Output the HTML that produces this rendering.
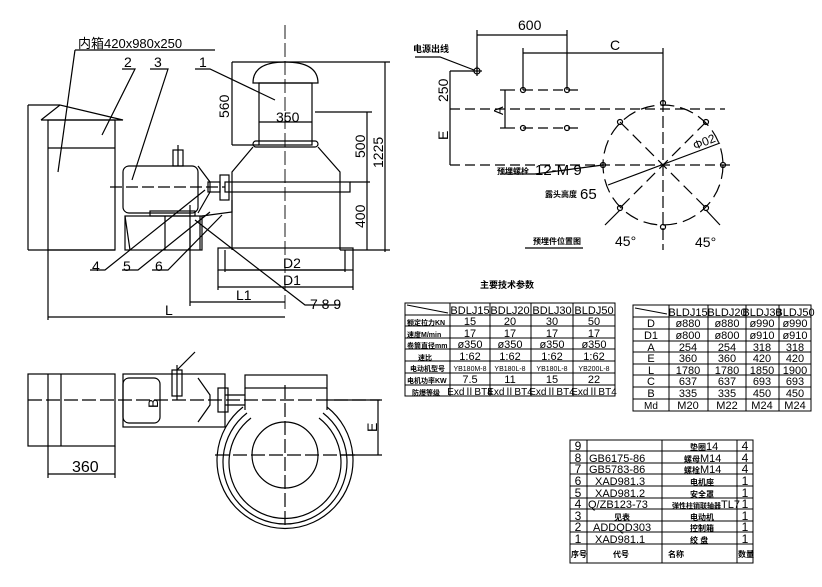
<!DOCTYPE html>
<html><head><meta charset="utf-8"><style>
html,body{margin:0;padding:0;background:#fff;}
svg{display:block;}
text{font-family:"Liberation Sans","Noto Sans CJK SC",sans-serif;fill:#000;}
.c{font-family:"Noto Sans CJK SC",sans-serif;font-weight:bold;}
</style></head><body>
<svg width="822" height="587" viewBox="0 0 822 587" xmlns="http://www.w3.org/2000/svg" stroke="#000" stroke-width="1.2" fill="none">
<!-- ================= FRONT VIEW ================= -->
<g>
<line x1="28" y1="105" x2="28" y2="250"/>
<line x1="28" y1="105" x2="60" y2="105"/>
<line x1="28" y1="250" x2="115" y2="250"/>
<polyline points="41,120 60,105 123,120 41,120"/>
<rect x="48" y="120" width="67" height="130"/>
<line x1="48" y1="148" x2="115" y2="148"/>
<!-- motor -->
<rect x="123" y="166" width="75" height="47" rx="6"/>
<polyline points="198,166 210,182 210,192 198,213"/>
<rect x="173" y="150" width="10" height="16"/>
<line x1="178" y1="145" x2="178" y2="166"/>
<rect x="208" y="182" width="12" height="10"/>
<line x1="110" y1="187" x2="225" y2="187" stroke-dasharray="12,4"/>
<rect x="150" y="211" width="45" height="5"/>
<!-- base frame -->
<rect x="125" y="216" width="77" height="34"/>
<line x1="125" y1="216" x2="130" y2="250"/>
<line x1="165" y1="216" x2="165" y2="250"/>
<line x1="200" y1="216" x2="200" y2="250"/>
<line x1="190" y1="205" x2="190" y2="250"/>
<polyline points="202,216 232,212 232,200"/>
<!-- capstan -->
<path d="M253,83 Q253,62 285,62 Q318,62 318,83 Z"/>
<rect x="259" y="83" width="53" height="62"/>
<line x1="259" y1="122" x2="312" y2="122"/>
<rect x="253" y="141" width="65" height="6" rx="3"/>
<polyline points="253,147 232,172 232,250"/>
<polyline points="318,147 340,172 340,250"/>
<rect x="218" y="248" width="135" height="22"/>
<line x1="225" y1="250" x2="225" y2="272"/>
<line x1="345" y1="250" x2="345" y2="272"/>
<rect x="225" y="182" width="125" height="10"/>
<rect x="220" y="175" width="9" height="25"/>
<line x1="285" y1="25" x2="285" y2="312" stroke-dasharray="14,4" stroke-width="0.9"/>
<!-- dims -->
<line x1="232" y1="62" x2="390" y2="62"/>
<line x1="232" y1="62" x2="232" y2="145"/>
<line x1="232" y1="145" x2="259" y2="145"/>
<line x1="315" y1="112" x2="372" y2="112"/>
<line x1="367" y1="112" x2="367" y2="250"/>
<line x1="385" y1="62" x2="385" y2="252"/>
<line x1="350" y1="182" x2="370" y2="182"/>
<line x1="340" y1="250" x2="390" y2="250"/>
<line x1="226" y1="270" x2="345" y2="270"/>
<line x1="218" y1="287" x2="353" y2="287"/>
<line x1="218" y1="270" x2="218" y2="290"/>
<line x1="353" y1="270" x2="353" y2="290"/>
<line x1="190" y1="230" x2="190" y2="306"/>
<line x1="190" y1="302" x2="285" y2="302"/>
<line x1="48" y1="250" x2="48" y2="320"/>
<line x1="48" y1="317" x2="285" y2="317"/>
<!-- leaders -->
<polyline points="75,50 215,50"/>
<line x1="75" y1="50" x2="58" y2="172"/>
<polyline points="122,69 135,69 102,135"/>
<polyline points="150,69 168,69 132,180"/>
<polyline points="195,69 210,69 275,100"/>
<polyline points="90,270 105,270 205,190"/>
<polyline points="122,270 138,270 210,212"/>
<polyline points="152,270 168,270 222,215"/>
<polyline points="195,220 305,305 340,305"/>
</g>
<g stroke="none">
<text x="78" y="48" font-size="13">内箱420x980x250</text>
<text x="124" y="67" font-size="14">2</text>
<text x="154" y="67" font-size="14">3</text>
<text x="199" y="67" font-size="14">1</text>
<text x="276" y="122" font-size="14">350</text>
<text x="92" y="271" font-size="14">4</text>
<text x="123" y="271" font-size="14">5</text>
<text x="155" y="271" font-size="14">6</text>
<text x="283" y="268" font-size="14">D2</text>
<text x="283" y="285" font-size="14">D1</text>
<text x="236" y="300" font-size="14">L1</text>
<text x="165" y="315" font-size="14">L</text>
<text x="310" y="309" font-size="14">7 8 9</text>
<text transform="translate(229,118) rotate(-90)" font-size="14">560</text>
<text transform="translate(365,158) rotate(-90)" font-size="14">500</text>
<text transform="translate(365,228) rotate(-90)" font-size="14">400</text>
<text transform="translate(383,168) rotate(-90)" font-size="14">1225</text>
</g>

<!-- ================= PLAN (top right) ================= -->
<g>
<line x1="477" y1="30" x2="477" y2="72"/>
<line x1="567" y1="30" x2="567" y2="90"/>
<line x1="477" y1="35" x2="567" y2="35"/>
<line x1="523" y1="48" x2="523" y2="90"/>
<line x1="663" y1="48" x2="663" y2="102"/>
<line x1="523" y1="53" x2="663" y2="53"/>
<circle cx="477" cy="71" r="3"/>
<line x1="472" y1="71" x2="482" y2="71"/><line x1="477" y1="66" x2="477" y2="76"/>
<polyline points="415,57 440,57 474,70"/>
<line x1="450" y1="71" x2="474" y2="71"/>
<line x1="450" y1="71" x2="450" y2="165"/>
<line x1="450" y1="109" x2="725" y2="109" stroke-dasharray="10,5"/>
<line x1="450" y1="165" x2="730" y2="165" stroke-dasharray="10,5"/>
<line x1="505" y1="90" x2="505" y2="128"/>
<line x1="500" y1="90" x2="515" y2="90"/><line x1="500" y1="128" x2="515" y2="128"/>
<line x1="523" y1="90" x2="580" y2="90" stroke-dasharray="10,5"/>
<line x1="523" y1="128" x2="580" y2="128" stroke-dasharray="10,5"/>
<circle cx="523" cy="90" r="2.5"/><circle cx="567" cy="90" r="2.5"/>
<circle cx="523" cy="128" r="2.5"/><circle cx="567" cy="128" r="2.5"/>
<circle cx="663" cy="165" r="60" stroke-dasharray="14,6"/>
<line x1="663" y1="100" x2="663" y2="250" stroke-dasharray="12,4"/>
<line x1="620" y1="122" x2="706" y2="208" stroke-dasharray="12,6"/>
<line x1="706" y1="122" x2="620" y2="208" stroke-dasharray="12,6"/>
<circle cx="663" cy="103" r="2.5"/><circle cx="663" cy="227" r="2.5"/>
<circle cx="603" cy="165" r="2.5"/><circle cx="723" cy="165" r="2.5"/>
<circle cx="620" cy="122" r="2.5"/><circle cx="706" cy="122" r="2.5"/>
<circle cx="620" cy="208" r="2.5"/><circle cx="706" cy="208" r="2.5"/>
<line x1="608" y1="185" x2="720" y2="143"/>
<polyline points="500,174 535,174 603,165"/>
<line x1="605" y1="225" x2="620" y2="210"/>
<line x1="720" y1="225" x2="706" y2="210"/>
<line x1="525" y1="248" x2="583" y2="248"/>
</g>
<g stroke="none">
<text x="518" y="30" font-size="14">600</text>
<text x="610" y="50" font-size="14">C</text>
<text x="413" y="52" font-size="9" class="c">电源出线</text>
<text transform="translate(448,102) rotate(-90)" font-size="14">250</text>
<text transform="translate(448,140) rotate(-90)" font-size="14">E</text>
<text transform="translate(503,115) rotate(-90)" font-size="13">A</text>
<text x="497" y="174" font-size="8" class="c">预埋螺栓</text>
<text x="535" y="175" font-size="15">12-M 9</text>
<text x="545" y="197" font-size="8" class="c">露头高度</text>
<text x="580" y="199" font-size="15">65</text>
<text transform="translate(695,150) rotate(-22)" font-size="12">Φ02</text>
<text x="533" y="244" font-size="8" class="c">预埋件位置图</text>
<text x="615" y="246" font-size="14">45°</text>
<text x="695" y="247" font-size="14">45°</text>
</g>

<!-- ================= BOTTOM LEFT PLAN ================= -->
<g>
<rect x="28" y="374" width="87" height="72"/>
<line x1="48" y1="374" x2="48" y2="478"/>
<line x1="61" y1="374" x2="61" y2="446"/>
<line x1="115" y1="446" x2="115" y2="478"/>
<line x1="48" y1="474" x2="115" y2="474"/>
<rect x="123" y="374" width="102" height="53"/>
<rect x="123" y="378" width="37" height="45" rx="6"/>
<polyline points="198,378 210,395 210,405 198,422"/>
<rect x="172" y="370" width="10" height="26"/>
<line x1="177" y1="365" x2="177" y2="400"/>
<line x1="177" y1="370" x2="195" y2="352"/>
<rect x="218" y="388" width="10" height="24"/>
<line x1="225" y1="395" x2="245" y2="395"/><line x1="225" y1="405" x2="245" y2="405"/>
<line x1="28" y1="400" x2="380" y2="400" stroke-dasharray="14,4"/>
<rect x="245" y="375" width="82" height="13"/>
<line x1="245" y1="388" x2="245" y2="410"/><line x1="327" y1="388" x2="327" y2="410"/>
<path d="M243,407 A68,68 0 1,0 327,407"/>
<path d="M247,413 A62,62 0 1,0 323,413"/>
<path d="M251,418 A56,56 0 1,0 319,418"/>
<circle cx="285" cy="455" r="33"/>
<line x1="215" y1="455" x2="355" y2="455" stroke-dasharray="14,4"/>
<line x1="285" y1="385" x2="285" y2="525" stroke-dasharray="14,4"/>
<line x1="330" y1="400" x2="382" y2="400"/>
<line x1="340" y1="455" x2="382" y2="455"/>
<line x1="378" y1="400" x2="378" y2="455"/>
</g>
<g stroke="none">
<text x="72" y="472" font-size="16">360</text>
<text transform="translate(158,408) rotate(-90)" font-size="14">B</text>
<text transform="translate(377,432) rotate(-90)" font-size="14">E</text>
</g>

<!-- ================= TABLE 1 ================= -->
<text x="480" y="288" font-size="9" class="c" stroke="none">主要技术参数</text>
<g stroke-width="1">
<rect x="405" y="303" width="210" height="93"/>
<line x1="450" y1="303" x2="450" y2="396"/><line x1="490" y1="303" x2="490" y2="396"/>
<line x1="531" y1="303" x2="531" y2="396"/><line x1="573" y1="303" x2="573" y2="396"/>
<line x1="405" y1="315" x2="615" y2="315"/><line x1="405" y1="326" x2="615" y2="326"/>
<line x1="405" y1="338" x2="615" y2="338"/><line x1="405" y1="349" x2="615" y2="349"/>
<line x1="405" y1="361" x2="615" y2="361"/><line x1="405" y1="373" x2="615" y2="373"/>
<line x1="405" y1="385" x2="615" y2="385"/>
<line x1="407" y1="305" x2="448" y2="313"/>
</g>
<g stroke="none" font-size="11" text-anchor="middle">
<text x="470" y="314">BDLJ15</text><text x="510" y="314">BDLJ20</text><text x="552" y="314">BDLJ30</text><text x="594" y="314">BLDJ50</text>
<text x="470" y="325">15</text><text x="510" y="325">20</text><text x="552" y="325">30</text><text x="594" y="325">50</text>
<text x="470" y="337">17</text><text x="510" y="337">17</text><text x="552" y="337">17</text><text x="594" y="337">17</text>
<text x="470" y="348">ø350</text><text x="510" y="348">ø350</text><text x="552" y="348">ø350</text><text x="594" y="348">ø350</text>
<text x="470" y="360">1:62</text><text x="510" y="360">1:62</text><text x="552" y="360">1:62</text><text x="594" y="360">1:62</text>
<text x="470" y="371" font-size="7">YB180M-8</text><text x="510" y="371" font-size="7">YB180L-8</text><text x="552" y="371" font-size="7">YB180L-8</text><text x="594" y="371" font-size="7">YB200L-8</text>
<text x="470" y="383">7.5</text><text x="510" y="383">11</text><text x="552" y="383">15</text><text x="594" y="383">22</text>
<text x="470" y="395" font-size="10">ExdⅡBT4</text><text x="510" y="395" font-size="10">ExdⅡBT4</text><text x="552" y="395" font-size="10">ExdⅡBT4</text><text x="594" y="395" font-size="10">ExdⅡBT4</text>
<g font-size="7" class="c" text-anchor="start">
<text x="407" y="325">额定拉力KN</text><text x="407" y="337">速度M/min</text><text x="407" y="348">卷筒直径mm</text>
<text x="418" y="360">速比</text><text x="410" y="371">电动机型号</text><text x="407" y="383">电机功率KW</text><text x="412" y="395">防爆等级</text>
</g>
</g>

<!-- ================= TABLE 2 ================= -->
<g stroke-width="1">
<rect x="633" y="305" width="178" height="106"/>
<line x1="669" y1="305" x2="669" y2="411"/><line x1="708" y1="305" x2="708" y2="411"/>
<line x1="746" y1="305" x2="746" y2="411"/><line x1="779" y1="305" x2="779" y2="411"/>
<line x1="633" y1="317" x2="811" y2="317"/><line x1="633" y1="329" x2="811" y2="329"/>
<line x1="633" y1="341" x2="811" y2="341"/><line x1="633" y1="352" x2="811" y2="352"/>
<line x1="633" y1="364" x2="811" y2="364"/><line x1="633" y1="375" x2="811" y2="375"/>
<line x1="633" y1="387" x2="811" y2="387"/><line x1="633" y1="399" x2="811" y2="399"/>
<line x1="635" y1="308" x2="667" y2="314"/>
</g>
<g stroke="none" font-size="11" text-anchor="middle">
<text x="688" y="316">BLDJ15</text><text x="727" y="316">BLDJ20</text><text x="762" y="316">BLDJ30</text><text x="795" y="316">BLDJ50</text>
<text x="651" y="327">D</text><text x="688" y="327">ø880</text><text x="727" y="327">ø880</text><text x="762" y="327">ø990</text><text x="795" y="327">ø990</text>
<text x="651" y="339">D1</text><text x="688" y="339">ø800</text><text x="727" y="339">ø800</text><text x="762" y="339">ø910</text><text x="795" y="339">ø910</text>
<text x="651" y="351">A</text><text x="688" y="351">254</text><text x="727" y="351">254</text><text x="762" y="351">318</text><text x="795" y="351">318</text>
<text x="651" y="362">E</text><text x="688" y="362">360</text><text x="727" y="362">360</text><text x="762" y="362">420</text><text x="795" y="362">420</text>
<text x="651" y="374">L</text><text x="688" y="374">1780</text><text x="727" y="374">1780</text><text x="762" y="374">1850</text><text x="795" y="374">1900</text>
<text x="651" y="385">C</text><text x="688" y="385">637</text><text x="727" y="385">637</text><text x="762" y="385">693</text><text x="795" y="385">693</text>
<text x="651" y="397">B</text><text x="688" y="397">335</text><text x="727" y="397">335</text><text x="762" y="397">450</text><text x="795" y="397">450</text>
<text x="651" y="409" font-size="10">Md</text><text x="688" y="409">M20</text><text x="727" y="409">M22</text><text x="762" y="409">M24</text><text x="795" y="409">M24</text>
</g>

<!-- ================= TABLE 3 ================= -->
<g stroke-width="1">
<rect x="570" y="440" width="183" height="123"/>
<line x1="587" y1="440" x2="587" y2="563"/><line x1="662" y1="440" x2="662" y2="563"/>
<line x1="737" y1="440" x2="737" y2="563"/>
<line x1="570" y1="451" x2="753" y2="451"/><line x1="570" y1="463" x2="753" y2="463"/>
<line x1="570" y1="474" x2="753" y2="474"/><line x1="570" y1="486" x2="753" y2="486"/>
<line x1="570" y1="498" x2="753" y2="498"/><line x1="570" y1="509" x2="753" y2="509"/>
<line x1="570" y1="521" x2="753" y2="521"/><line x1="570" y1="532" x2="753" y2="532"/>
<line x1="570" y1="544" x2="753" y2="544"/>
</g>
<g stroke="none" font-size="12">
<g text-anchor="middle">
<text x="578" y="450">9</text><text x="578" y="462">8</text><text x="578" y="473">7</text><text x="578" y="485">6</text><text x="578" y="497">5</text>
<text x="578" y="508">4</text><text x="578" y="520">3</text><text x="578" y="531">2</text><text x="578" y="543">1</text>
<text x="745" y="450">4</text><text x="745" y="462">4</text><text x="745" y="473">4</text><text x="745" y="485">1</text><text x="745" y="497">1</text>
<text x="745" y="508">1</text><text x="745" y="520">1</text><text x="745" y="531">1</text><text x="745" y="543">1</text>
</g>
<g font-size="11">
<text x="589" y="462">GB6175-86</text><text x="589" y="473">GB5783-86</text>
<text x="595" y="485">XAD981.3</text><text x="595" y="497">XAD981.2</text>
<text x="588" y="508">Q/ZB123-73</text><text x="593" y="531">ADDQD303</text><text x="595" y="543">XAD981.1</text>
</g>
<g font-size="11">
<text x="690" y="450"><tspan class="c" font-size="8">垫圈</tspan>14</text>
<text x="684" y="462"><tspan class="c" font-size="8">螺母</tspan>M14</text>
<text x="684" y="473"><tspan class="c" font-size="8">螺栓</tspan>M14</text>
<text x="672" y="508"><tspan class="c" font-size="7">弹性柱销联轴器</tspan>TL7</text>
</g>
<g font-size="8" class="c">
<text x="690" y="485">电机座</text><text x="690" y="497">安全罩</text><text x="690" y="520">电动机</text>
<text x="690" y="531">控制箱</text><text x="690" y="543">绞 盘</text><text x="614" y="520">见表</text>
<text x="571" y="557">序号</text><text x="613" y="557">代号</text><text x="668" y="557">名称</text><text x="738" y="557">数量</text>
</g>
</g>
</svg>
</body></html>
